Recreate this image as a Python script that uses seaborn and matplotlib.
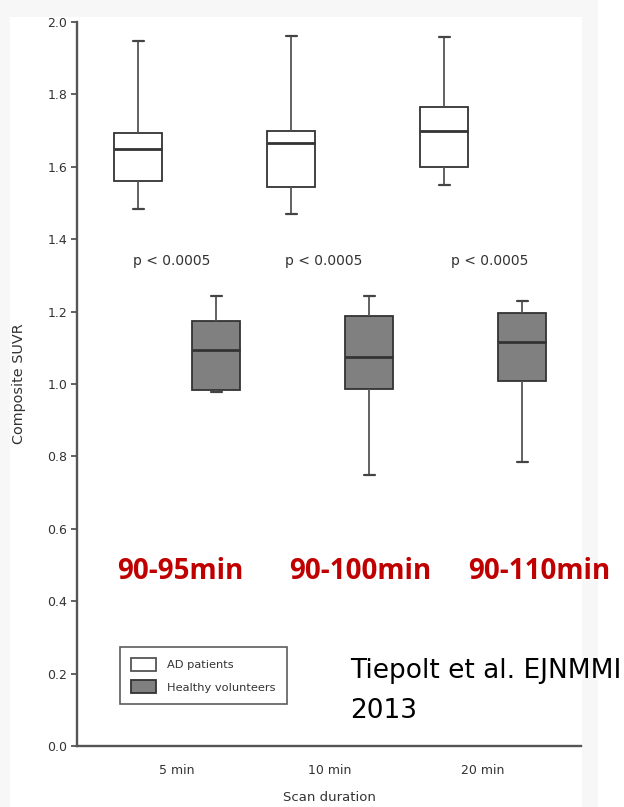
import numpy as np
import pandas as pd
import matplotlib
matplotlib.use("Agg")
import matplotlib.pyplot as plt
from matplotlib.patches import Patch, Rectangle
import seaborn as sns

# ---- data ----
durations = ["5 min", "10 min", "20 min"]
groups = ["AD patients", "Healthy volunteers"]

ad_low = [1.483, 1.469, 1.549]
ad_q1 = [1.561, 1.543, 1.600]
ad_med = [1.649, 1.665, 1.699]
ad_q3 = [1.692, 1.699, 1.766]
ad_high = [1.947, 1.961, 1.958]

hv_low = [0.978, 0.749, 0.784]
hv_q1 = [0.983, 0.985, 1.008]
hv_med = [1.093, 1.075, 1.116]
hv_q3 = [1.174, 1.188, 1.195]
hv_high = [1.243, 1.244, 1.229]

p_labels = ["p < 0.0005", "p < 0.0005", "p < 0.0005"]
window_labels = ["90-95min", "90-100min", "90-110min"]
citation = ["Tiepolt et al. EJNMMI", "2013"]

# five-number summaries -> minimal samples that reproduce them exactly
rows = []
for i, d in enumerate(durations):
    for g, stats in ((groups[0], (ad_low, ad_q1, ad_med, ad_q3, ad_high)),
                     (groups[1], (hv_low, hv_q1, hv_med, hv_q3, hv_high))):
        for s in stats:
            rows.append({"duration": d, "group": g, "suvr": s[i]})
df = pd.DataFrame(rows)

sns.set_style("white")
plt.rcParams["font.family"] = ["DejaVu Sans"]

fig = plt.figure(figsize=(6.24, 8.07), dpi=100)
fig.patch.set_facecolor("white")
fig.patches.append(Rectangle((0, 1 - 17 / 807), 598 / 624, 17 / 807,
                             transform=fig.transFigure, facecolor="#f7f7f7",
                             edgecolor="none", zorder=-10))
fig.patches.append(Rectangle((0, 0), 10 / 624, 1,
                             transform=fig.transFigure, facecolor="#f7f7f7",
                             edgecolor="none", zorder=-10))
fig.patches.append(Rectangle((582 / 624, 0), 16 / 624, 1,
                             transform=fig.transFigure, facecolor="#f7f7f7",
                             edgecolor="none", zorder=-10))
ax = fig.add_axes([77 / 624, 1 - 746 / 807, 504 / 624, 724 / 807])
ax.set_facecolor("none")

sns.boxplot(data=df, x="duration", y="suvr", hue="group",
            order=durations, hue_order=groups,
            palette={groups[0]: "white", groups[1]: "#808080"},
            saturation=1, width=1.02, gap=0.38, whis=(0, 100),
            linecolor="#333333", linewidth=1.3, fliersize=0,
            medianprops={"linewidth": 2.0, "color": "#333333"},
            whiskerprops={"color": "#555555", "linewidth": 1.3},
            capprops={"color": "#444444", "linewidth": 1.6},
            legend=False, ax=ax)

# shorten whisker caps
for ln in ax.lines:
    x = np.asarray(ln.get_xdata(), dtype=float)
    y = np.asarray(ln.get_ydata(), dtype=float)
    if len(x) == 2 and y[0] == y[1] and abs(x[1] - x[0]) < 0.2:
        c = x.mean()
        ln.set_xdata([c - 0.036, c + 0.036])

ax.set_ylim(0, 2.0)
ax.set_xlim(-0.654, 2.64)
ax.set_yticks(np.arange(0, 2.01, 0.2))
ax.set_yticklabels([f"{v:.1f}" for v in np.arange(0, 2.01, 0.2)])

for s in ["top", "right"]:
    ax.spines[s].set_visible(False)
for s in ["left", "bottom"]:
    ax.spines[s].set_color("#555555")
    ax.spines[s].set_linewidth(1.7)

ax.tick_params(axis="y", length=4, width=1.3, color="#555555", pad=3,
               labelsize=9, labelcolor="#333333", left=True)
ax.tick_params(axis="x", length=0, pad=13, labelsize=9, labelcolor="#333333")
ax.set_xlabel("Scan duration", fontsize=9.5, color="#333333", labelpad=10)
ax.set_ylabel("Composite SUVR", fontsize=10.4, color="#333333", labelpad=15)

# p-values
for i, (lab, dx) in enumerate(zip(p_labels, [-0.036, -0.04, 0.046])):
    ax.text(i + dx, 1.33, lab, ha="center", va="baseline", fontsize=10,
            color="#333333")

# red scan-window labels
for i, (lab, dx) in enumerate(zip(window_labels, [0.02, 0.196, 0.37])):
    ax.text(i + dx, 0.461, lab, ha="center", va="baseline", fontsize=20,
            color="#c00000", fontweight="bold", family=["Open Sans", "DejaVu Sans"])

# legend
handles = [Patch(facecolor="white", edgecolor="#555555", linewidth=1.3),
           Patch(facecolor="#808080", edgecolor="#333333", linewidth=1.3)]
leg = ax.legend(handles, groups, loc="lower left",
                bbox_to_anchor=(43 / 504, 42 / 724), borderaxespad=0,
                fontsize=8.2, frameon=True, fancybox=False, edgecolor="#333333",
                handlelength=2.2, handleheight=1.35, handletextpad=1.0,
                labelspacing=0.85, borderpad=0.95)
leg.get_frame().set_linewidth(1.2)
for t in leg.get_texts():
    t.set_color("#333333")

# citation
fig.text(350 / 624, 1 - 678 / 807, citation[0], fontsize=19, color="black",
         va="baseline", ha="left")
fig.text(350 / 624, 1 - 718 / 807, citation[1], fontsize=19, color="black",
         va="baseline", ha="left")

fig.savefig("out.png", dpi=100, facecolor=fig.get_facecolor())
